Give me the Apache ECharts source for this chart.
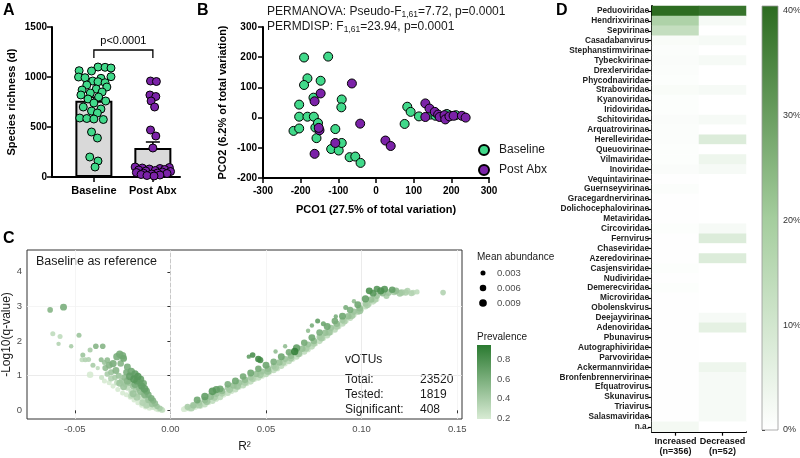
<!DOCTYPE html>
<html>
<head>
<meta charset="utf-8">
<script src="https://cdn.jsdelivr.net/npm/echarts@6/dist/echarts.min.js"></script>
<style>
html, body { margin: 0; padding: 0; background: #fff; }
#main { width: 800px; height: 458px; }
</style>
</head>
<body>
<div id="main"></div>
<script>
// ---------- A: species richness ----------
const groupsA = ['Baseline', 'Post Abx']
const meanA = [763, 290]
const semA = [35, 60]
const baselineRich = [1100, 1097, 1090, 1063, 1060, 1003, 1000, 993, 987, 960, 953, 943, 920, 900, 880, 870, 850, 840,
  820, 800, 780, 760, 740, 700, 680, 660, 640, 590, 585, 580, 575, 450, 390, 200, 160, 100]
const baselineJit = [0.07, 0.19, 0.29, -0.25, -0.04, 0.29, -0.26, -0.15, 0.12, -0.02, 0.07, 0.19, -0.12, 0.22, 0.04, -0.2, 0.14, -0.06,
  -0.22, 0.08, -0.1, 0.2, 0.0, -0.18, 0.12, -0.04, 0.06, -0.24, -0.12, 0.0, 0.16, -0.04, 0.06, -0.07, 0.07, 0.02]
const postRich = [960, 955, 820, 805, 760, 700, 470, 410, 290, 100, 95, 90, 85, 80, 75, 70, 65, 60, 55, 50, 45, 40, 38, 35, 30, 25, 20, 15, 10]
const postJit = [-0.04, 0.06, -0.05, 0.05, -0.03, 0.03, -0.04, 0.05, 0.0, -0.3, 0.28, -0.18, 0.12, -0.06, 0.2, -0.24, 0.04, -0.12,
  0.3, 0.16, -0.28, 0.08, -0.16, 0.24, -0.02, -0.2, 0.12, -0.1, 0.02]
const pText = 'p<0.0001'

// ---------- B: PCoA ----------
const pcoBaseline = [[-191, 199], [-127, 202], [-182, 130], [-191, 108], [-147, 122], [-204, 43], [-166, 66], [-91, 60], [-92, 34],
  [-204, 3], [-182, 3], [-165, 3], [-161, -33], [-154, -18], [-219, -44], [-204, -36], [-108, -38], [-158, -68], [-119, -104],
  [-99, -109], [-91, -84], [-70, -131], [-55, -129], [-41, -150], [76, -21], [83, 36], [92, 19], [114, 4], [145, 10], [158, 6],
  [194, 8], [212, 8], [188, 12]]
const pcoPost = [[-64, 113], [-147, 80], [-163, 54], [-150, -42], [-152, -34], [-163, -120], [-108, -84], [-42, -20], [25, -76],
  [39, -94], [131, 47], [142, 30], [156, 19], [131, 2], [165, 10], [169, 2], [182, 8], [184, -6], [195, 4], [206, 6], [228, 6], [238, 0]]

// ---------- C: volcano  [R2, -log10 q, mean abundance, prevalence] ----------
const volcanoLeft = [
  [-0.0629, 2.90, 0.004, 0.55], [-0.0559, 2.98, 0.007, 0.60], [-0.0615, 2.21, 0.003, 0.30], [-0.0577, 2.13, 0.003, 0.30],
  [-0.0585, 1.92, 0.002, 0.35], [-0.0519, 1.85, 0.002, 0.40], [-0.0478, 2.17, 0.003, 0.45], [-0.0458, 1.60, 0.003, 0.45],
  [-0.0420, 1.74, 0.003, 0.40], [-0.0390, 1.85, 0.004, 0.55], [-0.0354, 1.85, 0.004, 0.55], [-0.0462, 1.46, 0.003, 0.30],
  [-0.0445, 1.46, 0.003, 0.35], [-0.0428, 1.47, 0.003, 0.35], [-0.0420, 1.03, 0.006, 0.20], [-0.0362, 1.46, 0.003, 0.50],
  [-0.0405, 1.30, 0.003, 0.40], [-0.0380, 1.22, 0.002, 0.30], [-0.0345, 1.38, 0.003, 0.45], [-0.0330, 1.45, 0.004, 0.50],
  [-0.0280, 1.55, 0.008, 0.60], [-0.0265, 1.62, 0.008, 0.62], [-0.0250, 1.58, 0.008, 0.60], [-0.0245, 1.50, 0.007, 0.65],
  [-0.0300, 1.35, 0.008, 0.60], [-0.0320, 1.30, 0.007, 0.55], [-0.0340, 1.22, 0.005, 0.50], [-0.0260, 1.35, 0.006, 0.55],
  [-0.0225, 1.25, 0.007, 0.60], [-0.0205, 1.12, 0.009, 0.65], [-0.0185, 1.05, 0.008, 0.70], [-0.0212, 0.98, 0.009, 0.70],
  [-0.0190, 0.90, 0.009, 0.75], [-0.0175, 0.85, 0.008, 0.70], [-0.0160, 0.80, 0.007, 0.65], [-0.0150, 0.70, 0.008, 0.70],
  [-0.0135, 0.62, 0.009, 0.70], [-0.0125, 0.55, 0.007, 0.65], [-0.0115, 0.45, 0.006, 0.60], [-0.0100, 0.35, 0.006, 0.60],
  [-0.0090, 0.28, 0.005, 0.55], [-0.0080, 0.20, 0.005, 0.50], [-0.0070, 0.12, 0.004, 0.45], [-0.0055, 0.06, 0.004, 0.40],
  [-0.0045, 0.02, 0.004, 0.30], [-0.0040, 0.00, 0.003, 0.25], [-0.0170, 0.98, 0.008, 0.75], [-0.0155, 0.90, 0.007, 0.70],
  [-0.0140, 0.78, 0.006, 0.65], [-0.0230, 1.10, 0.006, 0.60],
  [-0.0330, 1.05, 0.004, 0.40], [-0.0310, 1.10, 0.005, 0.45], [-0.0290, 0.95, 0.004, 0.40], [-0.0270, 1.00, 0.005, 0.45],
  [-0.0280, 0.80, 0.004, 0.30], [-0.0255, 0.85, 0.005, 0.40], [-0.0240, 0.95, 0.006, 0.50], [-0.0235, 0.75, 0.005, 0.35],
  [-0.0225, 0.65, 0.004, 0.30], [-0.0215, 0.80, 0.006, 0.45], [-0.0205, 0.55, 0.004, 0.30], [-0.0195, 0.70, 0.006, 0.45],
  [-0.0180, 0.60, 0.005, 0.40], [-0.0170, 0.45, 0.004, 0.30], [-0.0165, 0.65, 0.006, 0.50], [-0.0155, 0.35, 0.004, 0.25],
  [-0.0145, 0.50, 0.005, 0.40], [-0.0140, 0.30, 0.004, 0.25], [-0.0130, 0.40, 0.005, 0.35], [-0.0120, 0.25, 0.004, 0.30],
  [-0.0110, 0.18, 0.004, 0.30], [-0.0105, 0.30, 0.005, 0.40], [-0.0095, 0.10, 0.004, 0.25], [-0.0085, 0.08, 0.003, 0.25],
  [-0.0075, 0.04, 0.003, 0.20], [-0.0065, 0.02, 0.003, 0.20], [-0.0060, 0.05, 0.004, 0.30], [-0.0050, 0.01, 0.003, 0.20],
  [-0.0360, 0.95, 0.003, 0.25], [-0.0345, 0.85, 0.003, 0.20], [-0.0320, 0.80, 0.003, 0.20], [-0.0300, 0.70, 0.003, 0.20],
  [-0.0275, 0.60, 0.003, 0.20], [-0.0250, 0.50, 0.003, 0.20], [-0.0230, 0.45, 0.003, 0.20], [-0.0210, 0.38, 0.003, 0.20],
  [-0.0190, 0.30, 0.003, 0.20], [-0.0170, 0.22, 0.003, 0.20], [-0.0150, 0.15, 0.003, 0.20], [-0.0130, 0.10, 0.003, 0.20],
  [-0.0110, 0.06, 0.003, 0.20],
  [-0.0195, 0.48, 0.007, 0.45], [-0.0175, 0.38, 0.007, 0.40], [-0.0155, 0.55, 0.008, 0.50], [-0.0145, 0.22, 0.006, 0.35],
  [-0.0125, 0.15, 0.006, 0.35], [-0.0225, 0.85, 0.008, 0.55], [-0.0245, 0.68, 0.007, 0.45], [-0.0265, 0.78, 0.007, 0.45],
  [-0.0285, 1.15, 0.007, 0.55], [-0.0185, 0.75, 0.008, 0.60], [-0.0135, 0.45, 0.007, 0.55], [-0.0115, 0.30, 0.006, 0.45],
  [-0.0095, 0.18, 0.006, 0.45], [-0.0205, 0.42, 0.005, 0.30], [-0.0310, 0.92, 0.005, 0.35]
]
const volcanoRight = [
  [0.007, 0.03, 0.004, 0.20], [0.010, 0.05, 0.004, 0.22], [0.013, 0.08, 0.003, 0.20], [0.016, 0.13, 0.004, 0.22],
  [0.020, 0.22, 0.003, 0.20], [0.024, 0.33, 0.004, 0.25], [0.028, 0.44, 0.003, 0.20], [0.032, 0.55, 0.004, 0.22],
  [0.036, 0.67, 0.003, 0.20], [0.040, 0.78, 0.004, 0.25], [0.044, 0.89, 0.003, 0.20], [0.048, 0.99, 0.004, 0.22],
  [0.052, 1.10, 0.003, 0.20], [0.056, 1.21, 0.004, 0.25], [0.060, 1.34, 0.003, 0.20], [0.064, 1.48, 0.004, 0.22],
  [0.068, 1.62, 0.003, 0.20], [0.072, 1.76, 0.004, 0.25], [0.076, 1.92, 0.003, 0.20], [0.080, 2.08, 0.004, 0.22],
  [0.084, 2.24, 0.003, 0.20], [0.088, 2.42, 0.004, 0.25], [0.092, 2.58, 0.003, 0.20], [0.096, 2.76, 0.004, 0.22],
  [0.100, 2.92, 0.003, 0.20], [0.104, 3.08, 0.004, 0.25], [0.108, 3.20, 0.003, 0.22],
  [0.018, 0.17, 0.005, 0.30], [0.022, 0.27, 0.005, 0.30], [0.026, 0.38, 0.005, 0.30], [0.030, 0.50, 0.005, 0.30],
  [0.034, 0.60, 0.005, 0.30], [0.038, 0.72, 0.005, 0.32], [0.042, 0.83, 0.005, 0.30], [0.046, 0.94, 0.005, 0.30],
  [0.050, 1.04, 0.005, 0.32], [0.054, 1.16, 0.005, 0.30], [0.058, 1.28, 0.005, 0.30], [0.062, 1.42, 0.005, 0.32],
  [0.066, 1.55, 0.005, 0.30], [0.070, 1.69, 0.005, 0.30], [0.074, 1.84, 0.005, 0.32], [0.078, 2.00, 0.005, 0.30],
  [0.082, 2.16, 0.005, 0.30], [0.086, 2.33, 0.005, 0.32], [0.090, 2.50, 0.005, 0.30], [0.094, 2.67, 0.005, 0.30],
  [0.098, 2.84, 0.005, 0.32], [0.102, 3.00, 0.005, 0.30], [0.106, 3.14, 0.005, 0.30],
  [0.011, 0.06, 0.006, 0.35], [0.015, 0.15, 0.007, 0.40], [0.019, 0.26, 0.008, 0.45], [0.023, 0.38, 0.007, 0.40],
  [0.027, 0.49, 0.006, 0.38], [0.031, 0.60, 0.007, 0.42], [0.035, 0.70, 0.008, 0.45], [0.039, 0.81, 0.007, 0.40],
  [0.043, 0.91, 0.006, 0.38], [0.047, 1.03, 0.007, 0.42], [0.051, 1.13, 0.008, 0.45], [0.055, 1.24, 0.007, 0.40],
  [0.059, 1.38, 0.006, 0.38], [0.063, 1.51, 0.007, 0.42], [0.067, 1.64, 0.008, 0.45], [0.071, 1.79, 0.007, 0.40],
  [0.075, 1.93, 0.006, 0.38], [0.079, 2.09, 0.007, 0.42], [0.083, 2.26, 0.008, 0.45], [0.087, 2.43, 0.007, 0.40],
  [0.091, 2.57, 0.006, 0.38], [0.095, 2.74, 0.007, 0.42], [0.099, 2.88, 0.008, 0.45], [0.103, 3.05, 0.007, 0.40],
  [0.107, 3.20, 0.006, 0.38],
  [0.009, 0.10, 0.005, 0.40], [0.012, 0.15, 0.006, 0.45], [0.015, 0.22, 0.005, 0.42], [0.018, 0.30, 0.006, 0.50],
  [0.021, 0.40, 0.007, 0.50], [0.024, 0.47, 0.005, 0.45], [0.027, 0.56, 0.006, 0.50], [0.030, 0.65, 0.005, 0.42],
  [0.033, 0.72, 0.006, 0.48], [0.036, 0.80, 0.005, 0.45], [0.039, 0.88, 0.006, 0.50], [0.042, 0.95, 0.005, 0.42],
  [0.045, 1.05, 0.006, 0.48], [0.048, 1.12, 0.005, 0.45], [0.051, 1.20, 0.006, 0.50], [0.054, 1.28, 0.005, 0.42],
  [0.057, 1.38, 0.006, 0.48], [0.060, 1.48, 0.005, 0.45], [0.063, 1.58, 0.006, 0.50], [0.066, 1.68, 0.005, 0.42],
  [0.069, 1.78, 0.006, 0.48], [0.072, 1.90, 0.005, 0.45], [0.075, 2.00, 0.006, 0.50], [0.078, 2.12, 0.005, 0.42],
  [0.081, 2.24, 0.006, 0.48], [0.084, 2.38, 0.005, 0.45], [0.087, 2.50, 0.006, 0.50], [0.090, 2.60, 0.005, 0.42],
  [0.093, 2.72, 0.006, 0.48], [0.096, 2.85, 0.005, 0.45], [0.099, 2.95, 0.006, 0.50], [0.102, 3.08, 0.005, 0.42],
  [0.105, 3.20, 0.006, 0.48], [0.108, 3.30, 0.005, 0.45], [0.111, 3.38, 0.006, 0.50], [0.114, 3.40, 0.007, 0.45],
  [0.117, 3.42, 0.006, 0.40], [0.120, 3.38, 0.007, 0.42], [0.123, 3.40, 0.006, 0.38], [0.126, 3.38, 0.005, 0.35],
  [0.014, 0.30, 0.007, 0.65], [0.018, 0.40, 0.008, 0.70], [0.022, 0.55, 0.009, 0.75], [0.026, 0.62, 0.007, 0.65],
  [0.030, 0.75, 0.006, 0.60], [0.034, 0.85, 0.007, 0.65], [0.038, 0.98, 0.006, 0.62], [0.042, 1.08, 0.007, 0.65],
  [0.046, 1.20, 0.006, 0.62], [0.050, 1.30, 0.007, 0.65], [0.054, 1.40, 0.006, 0.60], [0.058, 1.55, 0.007, 0.65],
  [0.062, 1.68, 0.006, 0.62], [0.066, 1.80, 0.008, 0.70], [0.070, 1.95, 0.006, 0.62], [0.074, 2.10, 0.007, 0.65],
  [0.078, 2.25, 0.006, 0.60], [0.082, 2.42, 0.007, 0.65], [0.086, 2.58, 0.006, 0.62], [0.090, 2.72, 0.007, 0.65],
  [0.094, 2.90, 0.006, 0.60], [0.098, 3.05, 0.007, 0.65], [0.102, 3.22, 0.008, 0.70], [0.106, 3.38, 0.007, 0.75],
  [0.110, 3.45, 0.008, 0.80], [0.112, 3.50, 0.007, 0.75], [0.116, 3.48, 0.006, 0.70],
  [0.043, 1.60, 0.004, 0.80], [0.046, 1.48, 0.006, 0.85], [0.041, 1.55, 0.002, 0.70], [0.047, 1.45, 0.005, 0.80],
  [0.065, 1.70, 0.008, 0.90], [0.077, 2.58, 0.003, 0.70], [0.074, 2.45, 0.002, 0.60], [0.080, 2.50, 0.003, 0.65],
  [0.0865, 2.71, 0.002, 0.60], [0.0917, 2.97, 0.003, 0.60], [0.096, 3.15, 0.002, 0.50], [0.072, 2.30, 0.002, 0.50],
  [0.060, 1.85, 0.002, 0.50], [0.055, 1.70, 0.002, 0.50], [0.118, 3.45, 0.006, 0.50], [0.121, 3.40, 0.006, 0.40],
  [0.124, 3.45, 0.005, 0.35], [0.127, 3.40, 0.004, 0.30], [0.129, 3.42, 0.003, 0.30], [0.1426, 3.40, 0.004, 0.35],
  [0.108, 3.50, 0.006, 0.75], [0.104, 3.45, 0.007, 0.80], [0.113, 3.30, 0.005, 0.40], [0.024, 0.60, 0.008, 0.70],
  [0.008, 0.05, 0.005, 0.20], [0.0095, 0.06, 0.004, 0.25], [0.011, 0.08, 0.004, 0.25], [0.012, 0.12, 0.005, 0.30]
]
const votuRows = [['Total:', 23520], ['Tested:', 1819], ['Significant:', 408]]
const abundanceKeys = [0.003, 0.006, 0.009]
const prevalenceTicks = [0.2, 0.4, 0.6, 0.8]

// ---------- D: taxonomy heatmap (% of vOTUs) ----------
const taxa = ['Peduoviridae', 'Hendrixvirinae', 'Sepvirinae', 'Casadabanvirus', 'Stephanstirmvirinae', 'Tybeckvirinae',
  'Drexlerviridae', 'Phycodnaviridae', 'Straboviridae', 'Kyanoviridae', 'Iridoviridae', 'Schitoviridae', 'Arquatrovirinae',
  'Herelleviridae', 'Queuovirinae', 'Vilmaviridae', 'Inoviridae', 'Vequintavirinae', 'Guernseyvirinae', 'Gracegardnervirinae',
  'Dolichocephalovirinae', 'Metaviridae', 'Circoviridae', 'Fernvirus', 'Chaseviridae', 'Azeredovirinae', 'Casjensviridae',
  'Nudiviridae', 'Demerecviridae', 'Microviridae', 'Obolenskvirus', 'Deejayvirinae', 'Adenoviridae', 'Pbunavirus',
  'Autographiviridae', 'Parvoviridae', 'Ackermannviridae', 'Bronfenbrennervirinae', 'Efquatrovirus', 'Skunavirus',
  'Triavirus', 'Salasmaviridae', 'n.a.']
const increasedPct = [40.2, 18.0, 13.2, 1.4, 0.8, 1.1, 0.8, 0.6, 1.4, 0.6, 0.6, 1.1, 0.8, 0.8, 0.6, 0.6, 1.1, 0.3, 0.8, 0.3,
  0.3, 0.3, 0.6, 0.3, 0.3, 0.3, 0.6, 0.3, 0.6, 0.3, 0.3, 0.3, 0.3, 0.3, 0.3, 0.3, 0.3, 0.3, 0.3, 0.3, 0.3, 0.3, 2.5]
const decreasedPct = [38.5, 1.9, 0, 1.9, 0, 1.9, 0, 0, 1.9, 0, 0, 1.9, 0, 7.7, 0, 3.8, 1.9, 0, 0, 0,
  0, 0, 1.9, 7.7, 0, 7.7, 0, 0, 0, 0, 0, 1.9, 5.8, 0, 0, 0, 3.8, 1.9, 1.9, 1.9, 1.9, 1.9, 0]
const heatCols = ['Increased\n(n=356)', 'Decreased\n(n=52)']
const heatTicks = [0, 10, 20, 30, 40]

const FONT = 'Liberation Sans, Arial, sans-serif'
const GREEN = '#41d98a'
const PURPLE = '#7b22a8'
const heatColors = ['#ffffff', '#a4cd9d', '#2c6b20']
const prevColors = ['#d8ebd4', '#2a7a30']
const heatMax = 40.4
const prevMin = 0.19, prevMax = 0.95

const sizeOf = a => 1.5 + 6.5 * Math.sqrt(a / 0.01)

const volcano = volcanoLeft.concat(volcanoRight).slice().sort((a, b) => a[3] - b[3])

const chart = echarts.init(document.getElementById('main'))

const boldAx = {
  axisLine: { show: true, onZero: false, lineStyle: { color: '#000', width: 2 } },
  axisTick: { show: true, length: 5, lineStyle: { color: '#000', width: 1.5 } },
  splitLine: { show: false }
}

const gradRect = (params, api, top, colors) => {
  const p0 = api.coord([0, top])
  const p1 = api.coord([1, api.value(1)])
  return {
    type: 'rect',
    shape: { x: p0[0], y: p0[1], width: p1[0] - p0[0], height: p1[1] - p0[1] },
    style: {
      fill: new echarts.graphic.LinearGradient(0, 1, 0, 0,
        colors.map((c, i) => ({ offset: i / (colors.length - 1), color: c }))),
      stroke: '#9a9a9a', lineWidth: 0.8
    }
  }
}

const txt = (x, y, text, extra) => ({
  type: 'text', x, y, silent: true,
  style: Object.assign({ text, fontFamily: FONT, fontSize: 12, fill: '#1a1a1a', verticalAlign: 'middle' }, extra || {})
})

const graphics = [
  txt(3, 11, 'A', { fontSize: 16, fontWeight: 'bold', fill: '#000' }),
  txt(197, 11, 'B', { fontSize: 16, fontWeight: 'bold', fill: '#000' }),
  txt(3, 239, 'C', { fontSize: 16, fontWeight: 'bold', fill: '#000' }),
  txt(556, 11, 'D', { fontSize: 16, fontWeight: 'bold', fill: '#000' }),
  {
    type: 'text', x: 267, y: 12, silent: true,
    style: {
      text: '{n|PERMANOVA: Pseudo-F}{s|1,61}{n|=7.72, p=0.0001}', verticalAlign: 'middle',
      rich: {
        n: { fontFamily: FONT, fontSize: 12, fill: '#1a1a1a', lineHeight: 15, verticalAlign: 'middle' },
        s: { fontFamily: FONT, fontSize: 8.5, fill: '#1a1a1a', lineHeight: 15, verticalAlign: 'bottom' }
      }
    }
  },
  {
    type: 'text', x: 267, y: 27, silent: true,
    style: {
      text: '{n|PERMDISP: F}{s|1,61}{n|=23.94, p=0.0001}', verticalAlign: 'middle',
      rich: {
        n: { fontFamily: FONT, fontSize: 12, fill: '#1a1a1a', lineHeight: 15, verticalAlign: 'middle' },
        s: { fontFamily: FONT, fontSize: 8.5, fill: '#1a1a1a', lineHeight: 15, verticalAlign: 'bottom' }
      }
    }
  },
  txt(36, 262, 'Baseline as reference', { fontSize: 12.5 }),
  txt(345, 360, 'vOTUs'),
  txt(477, 257, 'Mean abundance', { fontSize: 10, fill: '#1a1a1a' }),
  txt(477, 337, 'Prevalence', { fontSize: 10, fill: '#1a1a1a' })
]
votuRows.forEach((r, i) => {
  graphics.push(txt(345, 380 + i * 15, r[0]))
  graphics.push(txt(420, 380 + i * 15, String(r[1])))
})
abundanceKeys.forEach((a, i) => {
  const yy = 273 + i * 15
  graphics.push({ type: 'circle', silent: true, shape: { cx: 483, cy: yy, r: sizeOf(a) / 2 }, style: { fill: '#000' } })
  graphics.push(txt(497, yy, a.toFixed(3), { fontSize: 9.5, fill: '#4d4d4d' }))
})

const option = {
  backgroundColor: '#fff',
  animation: false,
  textStyle: { fontFamily: FONT },
  grid: [
    { left: 52, top: 27, width: 128, height: 150, outerBoundsMode: 'none' },
    { left: 263, top: 27, width: 226, height: 151, outerBoundsMode: 'none' },
    { left: 27, top: 250, width: 435, height: 169, outerBoundsMode: 'none',
      show: true, borderColor: '#333', borderWidth: 1, backgroundColor: 'transparent' },
    { left: 652, top: 6, width: 94, height: 425.7, outerBoundsMode: 'none' },
    { left: 762, top: 6, width: 16, height: 424, outerBoundsMode: 'none' },
    { left: 477, top: 345, width: 14, height: 74, outerBoundsMode: 'none' }
  ],
  xAxis: [
    Object.assign({
      gridIndex: 0, type: 'value', min: 0.29, max: 2.46,
      axisLabel: { customValues: [1, 2], formatter: v => groupsA[Math.round(v) - 1], fontWeight: 'bold', fontSize: 11, color: '#000', margin: 8 }
    }, boldAx, { axisTick: { show: true, customValues: [1, 2], length: 5, lineStyle: { color: '#000', width: 1.5 } } }),
    Object.assign({
      gridIndex: 1, type: 'value', min: -300, max: 300, interval: 100,
      name: 'PCO1 (27.5% of total variation)', nameLocation: 'middle', nameGap: 26, nameMoveOverlap: false,
      nameTextStyle: { fontWeight: 'bold', fontSize: 11, color: '#000' },
      axisLabel: { fontWeight: 'bold', fontSize: 10, color: '#000', margin: 8, formatter: v => String(v) }
    }, boldAx),
    {
      gridIndex: 2, type: 'value', min: -0.075, max: 0.1525, interval: 0.025,
      name: 'R²', nameLocation: 'middle', nameGap: 22, nameMoveOverlap: false, nameTextStyle: { fontSize: 12, color: '#1a1a1a' },
      axisLine: { show: false },
      axisTick: { show: true, customValues: [-0.05, 0, 0.05, 0.1, 0.15], length: 3, lineStyle: { color: '#333' } },
      axisLabel: { customValues: [-0.05, 0, 0.05, 0.1, 0.15], formatter: v => v.toFixed(2), fontSize: 9.5, color: '#4d4d4d', margin: 5 },
      splitLine: { show: true, lineStyle: { color: ['#f3f3f3', '#e6e6e6'], width: 0.8 } }
    },
    {
      gridIndex: 3, type: 'category', data: heatCols,
      axisLine: { show: true, lineStyle: { color: '#000', width: 2 } },
      axisTick: { show: true, alignWithLabel: true, length: 4, lineStyle: { color: '#000', width: 1.2 } },
      axisLabel: { interval: 0, fontWeight: 'bold', fontSize: 9, color: '#111', lineHeight: 10, margin: 5 },
      splitLine: { show: false }
    },
    { gridIndex: 4, type: 'value', min: 0, max: 1, show: false },
    { gridIndex: 5, type: 'value', min: 0, max: 1, show: false }
  ],
  yAxis: [
    Object.assign({
      gridIndex: 0, type: 'value', min: 0, max: 1500, interval: 500,
      name: 'Species richness (d)', nameLocation: 'middle', nameGap: 35, nameMoveOverlap: false,
      nameTextStyle: { fontWeight: 'bold', fontSize: 11, color: '#000' },
      axisLabel: { fontWeight: 'bold', fontSize: 10, color: '#000', margin: 5, formatter: v => String(v) }
    }, boldAx),
    Object.assign({
      gridIndex: 1, type: 'value', min: -200, max: 300, interval: 100,
      name: 'PCO2 (6.2% of total variation)', nameLocation: 'middle', nameGap: 35, nameMoveOverlap: false,
      nameTextStyle: { fontWeight: 'bold', fontSize: 11, color: '#000' },
      axisLabel: { fontWeight: 'bold', fontSize: 10, color: '#000', margin: 6, formatter: v => String(v) }
    }, boldAx),
    {
      gridIndex: 2, type: 'value', min: -0.25, max: 4.63, interval: 0.25,
      name: '-Log10(q-value)', nameLocation: 'middle', nameGap: 14, nameMoveOverlap: false,
      nameTextStyle: { fontSize: 12, color: '#1a1a1a' },
      axisLine: { show: false },
      axisTick: { show: true, customValues: [0, 1, 2, 3, 4], length: 3, lineStyle: { color: '#333' } },
      axisLabel: { customValues: [0, 1, 2, 3, 4], fontSize: 9.5, color: '#4d4d4d', margin: 5 },
      splitLine: { show: true, lineStyle: { color: ['rgba(0,0,0,0)', '#e6e6e6', 'rgba(0,0,0,0)', '#f3f3f3'], width: 0.8 } }
    },
    {
      gridIndex: 3, type: 'category', data: taxa, inverse: true,
      axisLine: { show: true, lineStyle: { color: '#000', width: 2 } },
      axisTick: { show: true, alignWithLabel: true, length: 4, lineStyle: { color: '#000', width: 1.2 } },
      axisLabel: { interval: 0, fontWeight: 'bold', fontSize: 8.3, color: '#222', margin: 3 },
      splitLine: { show: false }
    },
    {
      gridIndex: 4, type: 'value', min: 0, max: heatMax, position: 'right',
      axisLine: { show: false },
      axisTick: { show: true, customValues: heatTicks, length: 3, lineStyle: { color: '#222' } },
      axisLabel: { customValues: heatTicks, formatter: v => v + '%', fontSize: 9, color: '#333', margin: 5 },
      splitLine: { show: false }
    },
    {
      gridIndex: 5, type: 'value', min: prevMin, max: prevMax, position: 'right',
      axisLine: { show: false },
      axisTick: { show: true, inside: true, customValues: prevalenceTicks, length: 3, lineStyle: { color: '#fff' } },
      axisLabel: { customValues: prevalenceTicks, formatter: v => v.toFixed(1), fontSize: 9.5, color: '#4d4d4d', margin: 6 },
      splitLine: { show: false }
    }
  ],
  visualMap: [
    { type: 'continuous', show: false, seriesIndex: 7, dimension: 3, min: prevMin, max: prevMax, inRange: { color: prevColors } },
    { type: 'continuous', show: false, seriesIndex: 8, dimension: 2, min: 0, max: heatMax, inRange: { color: heatColors } }
  ],
  legend: {
    data: ['Baseline', 'Post Abx'], orient: 'vertical', left: 473, top: 139,
    icon: 'circle', itemWidth: 10, itemHeight: 10, itemGap: 8,
    textStyle: { fontSize: 12, color: '#1a1a1a', padding: [0, 0, 0, 5] }
  },
  series: [
    {
      type: 'bar', xAxisIndex: 0, yAxisIndex: 0, barWidth: 37,
      data: groupsA.map((g, i) => [i + 1, meanA[i]]),
      itemStyle: { color: '#d9d9d9', borderColor: '#000', borderWidth: 2 }, silent: true
    },
    {
      type: 'custom', xAxisIndex: 0, yAxisIndex: 0, silent: true,
      data: groupsA.map((g, i) => [i + 1, meanA[i], semA[i]]),
      encode: { x: 0, y: 1 },
      renderItem: (params, api) => {
        const x = api.value(0), m = api.value(1), s = api.value(2)
        const t = api.coord([x, m + s]), b = api.coord([x, m - s])
        const st = { stroke: '#000', lineWidth: 1.5 }
        return {
          type: 'group', children: [
            { type: 'line', shape: { x1: t[0], y1: t[1], x2: b[0], y2: b[1] }, style: st },
            { type: 'line', shape: { x1: t[0] - 7, y1: t[1], x2: t[0] + 7, y2: t[1] }, style: st },
            { type: 'line', shape: { x1: b[0] - 7, y1: b[1], x2: b[0] + 7, y2: b[1] }, style: st }
          ]
        }
      }
    },
    {
      name: 'richBase', type: 'scatter', xAxisIndex: 0, yAxisIndex: 0, symbolSize: 8,
      data: baselineRich.map((v, i) => [1 + baselineJit[i], v]),
      itemStyle: { color: GREEN, borderColor: '#000', borderWidth: 1, opacity: 1 }
    },
    {
      name: 'richPost', type: 'scatter', xAxisIndex: 0, yAxisIndex: 0, symbolSize: 8,
      data: postRich.map((v, i) => [2 + postJit[i], v]),
      itemStyle: { color: PURPLE, borderColor: '#000', borderWidth: 1, opacity: 1 }
    },
    {
      type: 'custom', xAxisIndex: 0, yAxisIndex: 0, silent: true,
      data: [[1, 2, 1270]],
      encode: { x: 0, y: 2 },
      renderItem: (params, api) => {
        const a = api.coord([api.value(0), api.value(2)])
        const b = api.coord([api.value(1), api.value(2)])
        return {
          type: 'group', children: [
            { type: 'polyline', shape: { points: [[a[0], a[1] + 8], [a[0], a[1]], [b[0], b[1]], [b[0], b[1] + 8]] },
              style: { stroke: '#000', lineWidth: 1.3, fill: null } },
            { type: 'text', x: (a[0] + b[0]) / 2, y: a[1] - 4,
              style: { text: pText, align: 'center', verticalAlign: 'bottom', fontSize: 11, fontFamily: FONT, fill: '#000' } }
          ]
        }
      }
    },
    {
      name: 'Baseline', type: 'scatter', xAxisIndex: 1, yAxisIndex: 1, symbolSize: 9, data: pcoBaseline,
      itemStyle: { color: GREEN, borderColor: '#000', borderWidth: 1, opacity: 1 }
    },
    {
      name: 'Post Abx', type: 'scatter', xAxisIndex: 1, yAxisIndex: 1, symbolSize: 9, data: pcoPost,
      itemStyle: { color: PURPLE, borderColor: '#000', borderWidth: 1, opacity: 1 }
    },
    {
      name: 'volcano', type: 'scatter', xAxisIndex: 2, yAxisIndex: 2,
      data: volcano, symbolSize: v => sizeOf(v[2]),
      itemStyle: { opacity: 0.9 },
      markLine: {
        silent: true, symbol: 'none', label: { show: false },
        lineStyle: { type: 'dashed', color: '#c8c8c8', width: 1 },
        data: [{ xAxis: 0 }]
      }
    },
    {
      type: 'heatmap', xAxisIndex: 3, yAxisIndex: 3,
      data: taxa.flatMap((t, i) => [[0, i, increasedPct[i]], [1, i, decreasedPct[i]]])
    },
    {
      type: 'custom', xAxisIndex: 4, yAxisIndex: 4, silent: true, data: [[0, 0]],
      renderItem: (params, api) => gradRect(params, api, heatMax, heatColors)
    },
    {
      type: 'custom', xAxisIndex: 5, yAxisIndex: 5, silent: true, data: [[0, prevMin]],
      renderItem: (params, api) => {
        const r = gradRect(params, api, prevMax, prevColors)
        r.style.stroke = null
        r.z2 = -1
        return r
      }
    }
  ],
  graphic: graphics
}

chart.setOption(option)
</script>
</body>
</html>
